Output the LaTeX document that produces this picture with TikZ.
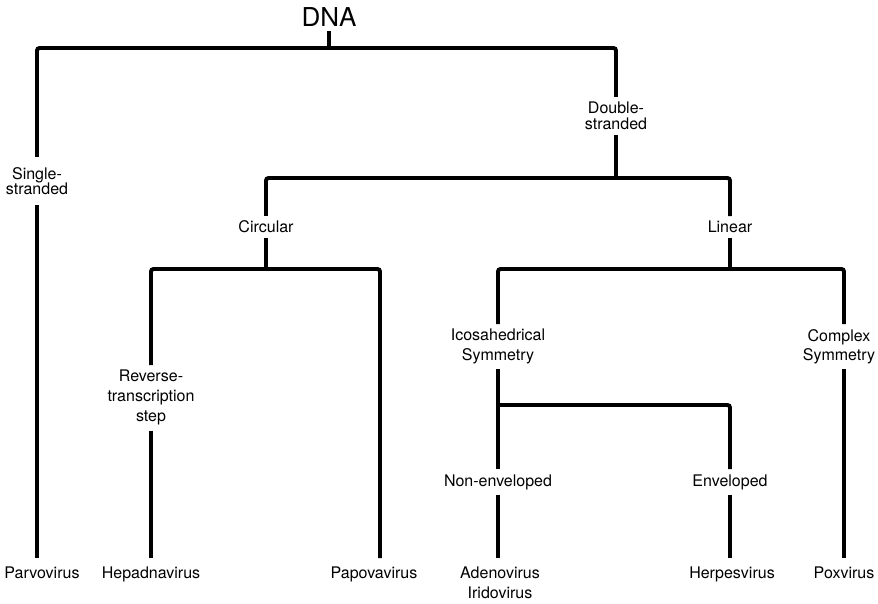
\documentclass[tikz,border=0pt]{standalone}
\usepackage{fontspec}
\setmainfont{TeX Gyre Heros}
\begin{document}
\begin{tikzpicture}[x=1pt,y=-1pt,
  br/.style={line width=3.9pt, rounded corners=2.5pt},
  lab/.style={font=\fontsize{16}{15.5}\selectfont, align=center, inner xsep=0pt, inner ysep=5pt},
  two/.style={lab, font=\fontsize{16}{19.5}\selectfont},
  leaf/.style={lab, inner ysep=8pt}
]
\useasboundingbox (0,0) rectangle (878,604);
% text nodes
\node[lab, font=\fontsize{26}{26}\selectfont, anchor=base, inner ysep=4pt] (dna) at (329,27) {DNA};
\node[lab, anchor=north, inner ysep=10pt] (ss) at (37,157) {Single-\\stranded};
\node[lab, anchor=north] (ds) at (616,97) {Double-\\stranded};
\node[lab, anchor=base] (circ) at (266,233) {Circular};
\node[lab, anchor=base] (lin) at (730,233) {Linear};
\node[two, anchor=north, font=\fontsize{16}{20}\selectfont] (rev) at (151,365) {Reverse-\\transcription\\step};
\node[two, anchor=north] (ico) at (498,324) {Icosahedrical\\Symmetry};
\node[two, anchor=north] (cpx) at (839,324) {Complex\\Symmetry};
\node[lab, anchor=base] (nenv) at (498,486) {Non-enveloped};
\node[lab, anchor=base] (env) at (730,486) {Enveloped};
\node[leaf, anchor=base] (parvo) at (42,578) {Parvovirus};
\node[leaf, anchor=base] (hepa) at (151,578) {Hepadnavirus};
\node[leaf, anchor=base] (papo) at (374,578) {Papovavirus};
\node[two, anchor=north, inner ysep=9pt] (adeno) at (500,558) {Adenovirus\\Iridovirus};
\node[leaf, anchor=base] (herp) at (732,578) {Herpesvirus};
\node[leaf, anchor=base] (pox) at (844,578) {Poxvirus};
% junctions
\coordinate (j0) at (329,48);
\coordinate (j1) at (616,178);
\coordinate (j2) at (266,269);
\coordinate (j3) at (730,269);
\coordinate (j4) at (498,405);
\coordinate (pa) at (380,269);
\coordinate (cx) at (844,269);
% connectors
\draw[br] (dna.south) -- (j0);
\draw[br] (ss.north) |- (j0) -| (ds.north);
\draw[br] (ss.south) -- (ss.south |- parvo.north);
\draw[br] (ds.south) -- (j1);
\draw[br] (circ.north) |- (j1) -| (lin.north);
\draw[br] (circ.south) -- (j2);
\draw[br] (rev.north) |- (j2) -| (pa |- papo.north);
\draw[br] (rev.south) -- (rev.south |- hepa.north);
\draw[br] (lin.south) -- (j3);
\draw[br] (ico.north) |- (j3) -| (cx |- cpx.north);
\draw[br] (cx |- cpx.south) -- (cx |- pox.north);
\draw[br] (ico.south) -- (ico.south |- nenv.north);
\draw[br] (j4) -| (env.north);
\draw[br] (nenv.south) -- (nenv.south |- adeno.north);
\draw[br] (env.south) -- (env.south |- herp.north);
\end{tikzpicture}
\end{document}
